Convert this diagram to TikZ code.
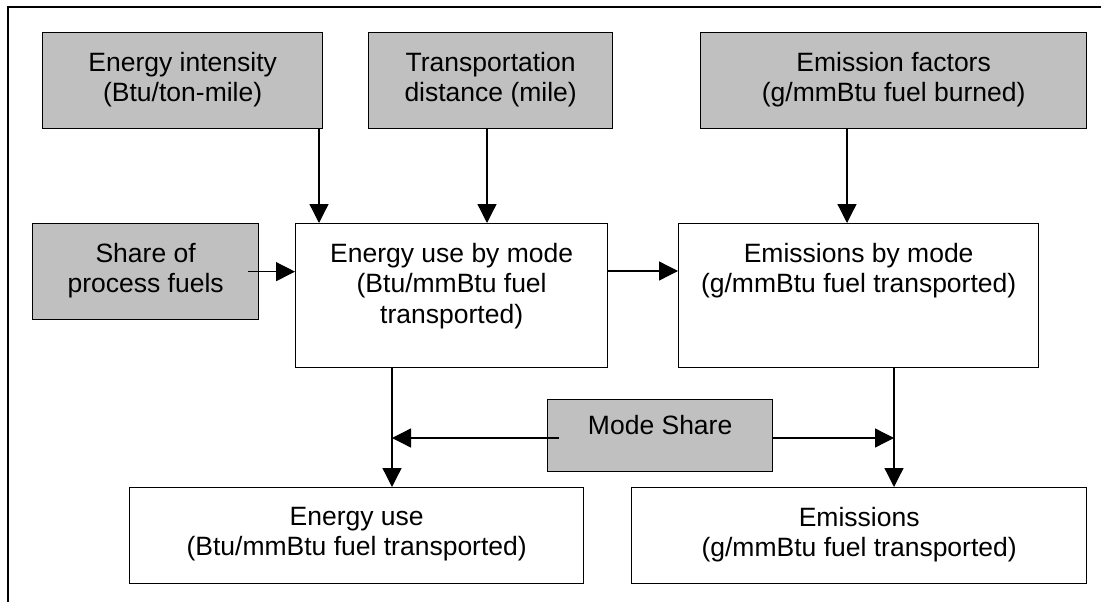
\documentclass[tikz,border=0pt]{standalone}
\usepackage{fontspec}
\setmainfont{Liberation Sans}
\usetikzlibrary{arrows.meta}
\definecolor{boxgray}{RGB}{192,192,192}
\begin{document}
\begin{tikzpicture}[x=1pt,y=-1pt,
  box/.style={draw=black, line width=1.3pt, inner sep=0pt, anchor=north west},
  inbox/.style={box, fill=boxgray},
  outbox/.style={box, fill=white},
  lbl/.style={align=center, anchor=north, inner sep=0pt, font=\fontsize{26.5}{30.5}\selectfont},
  arr/.style={line width=1.3pt, -{Triangle[length=19pt,width=19pt]}},
  framel/.style={line width=1.8pt}]
\useasboundingbox (0,0) rectangle (1101,602);
\draw[framel] (8,602) -- (8,7) -- (1101,7);

% boxes
\node[inbox, minimum width=280, minimum height=96] (ei) at (42,32) {};
\node[inbox, minimum width=244, minimum height=96] (td) at (368,32) {};
\node[inbox, minimum width=386, minimum height=96] (ef) at (700,32) {};
\node[inbox, minimum width=226, minimum height=96] (sp) at (32,223) {};
\node[outbox, minimum width=312, minimum height=144] (eu) at (295,223) {};
\node[outbox, minimum width=360, minimum height=144] (em) at (678,223) {};
\node[inbox, minimum width=225, minimum height=72] (ms) at (547,399) {};
\node[outbox, minimum width=454, minimum height=96] (eut) at (129,487) {};
\node[outbox, minimum width=455, minimum height=96] (emt) at (631,487) {};

% labels
\node[lbl] (eil) at ([yshift=-20pt]ei.north) {Energy intensity\\(Btu/ton-mile)};
\node[lbl] (tdl) at ([yshift=-20pt]td.north) {Transportation\\distance (mile)};
\node[lbl] (efl) at ([yshift=-20pt]ef.north) {Emission factors\\(g/mmBtu fuel burned)};
\node[lbl] (spl) at ([yshift=-20pt]sp.north) {Share of\\process fuels};
\node[lbl] (eul) at ([yshift=-20pt]eu.north) {Energy use by mode\\(Btu/mmBtu fuel\\transported)};
\node[lbl] (eml) at ([yshift=-20pt]em.north) {Emissions by mode\\(g/mmBtu fuel transported)};
\node[lbl] (msl) at ([yshift=-16pt]ms.north) {Mode Share};
\node[lbl] (eutl) at ([yshift=-20pt]eut.north) {Energy use\\(Btu/mmBtu fuel transported)};
\node[lbl] (emtl) at ([yshift=-20pt]emt.north) {Emissions\\(g/mmBtu fuel transported)};

% connector guide coordinates
\coordinate (xa) at (319,0);
\coordinate (xb) at (487,0);
\coordinate (xc) at (847,0);
\coordinate (xd) at (392,0);
\coordinate (xe) at (894,0);
\coordinate (ya) at (0,271);
\coordinate (yb) at (0,438);

% connectors
\draw[arr] (ei.south -| xa) -- (eu.north -| xa);
\draw[arr] (td.south -| xb) -- (eu.north -| xb);
\draw[arr] (ef.south -| xc) -- (em.north -| xc);
\draw[arr] ([xshift=-11pt]sp.east) -- (sp.east -| eu.west);
\draw[arr] (eu.east |- ya) -- (em.west |- ya);
\draw[arr] (eu.south -| xd) -- (eut.north -| xd);
\draw[arr] (em.south -| xe) -- (emt.north -| xe);
\draw[arr] ([xshift=12pt]ms.west |- yb) -- (xd |- yb);
\draw[arr] (ms.east |- yb) -- (xe |- yb);
\end{tikzpicture}
\end{document}
